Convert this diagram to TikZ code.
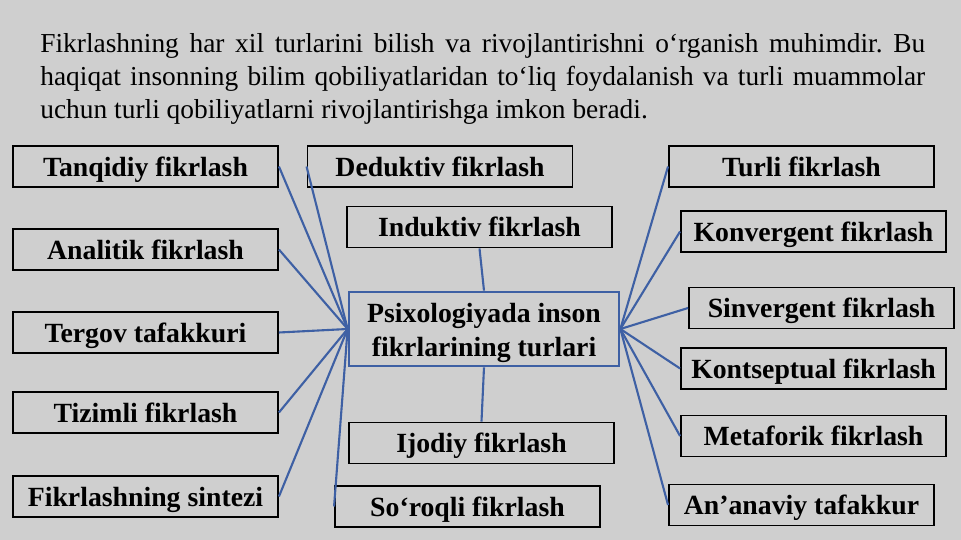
\documentclass[tikz,border=0pt]{standalone}
\usepackage{fontspec}
\setmainfont{Liberation Serif}
\usetikzlibrary{calc}
\definecolor{bgGray}{RGB}{207,207,207}
\definecolor{lineBlue}{RGB}{62,96,164}

\begin{document}
\frenchspacing
\begin{tikzpicture}[x=0.02cm,y=-0.02cm,
    kind/.style={draw=black,line width=1.1pt,minimum width=5.3cm,minimum height=0.82cm,inner sep=0pt,
        text height=11pt,text depth=0pt,font=\fontsize{15.8}{19.8}\selectfont\bfseries},
    link/.style={draw=lineBlue,line width=1.2pt}]
    \fill[bgGray] (0,0) rectangle (961,540);
    % intro text
    \node[anchor=north west,text width=17.7cm,align=justify,inner sep=0pt,
        font=\fontsize{15.6}{18.7}\selectfont] (intro) at (40,33)
        {Fikrlashning har xil turlarini bilish va rivojlantirishni o‘rganish muhimdir. Bu\linebreak
         haqiqat insonning bilim qobiliyatlaridan to‘liq foydalanish va turli muammolar\linebreak
         uchun turli qobiliyatlarni rivojlantirishga imkon beradi.};
    % left column
    \node[kind] (tanq) at (145.5,166.5) {Tanqidiy fikrlash};
    \node[kind] (anal) at (145.5,249.5) {Analitik fikrlash};
    \node[kind] (terg) at (145.5,332.5) {Tergov tafakkuri};
    \node[kind] (tizi) at (145.5,412.5) {Tizimli fikrlash};
    \node[kind] (sint) at (145.5,496.5) {Fikrlashning sintezi};
    % middle
    \node[kind] (dedu) at (440,166.5) {Deduktiv fikrlash};
    \node[kind] (indu) at (479.5,227) {Induktiv fikrlash};
    \node[kind,draw=lineBlue,line width=1.6pt,minimum width=5.4cm,minimum height=1.48cm,
        text height=31.8pt,align=center]
        (root) at (484,329) {Psixologiyada inson\\fikrlarining turlari};
    \node[kind] (ijod) at (481.5,443) {Ijodiy fikrlash};
    \node[kind] (soro) at (467.5,506.5) {So‘roqli fikrlash};
    % right column
    \node[kind] (turl) at (801.5,166.5) {Turli fikrlash};
    \node[kind] (konv) at (813.5,231.5) {Konvergent fikrlash};
    \node[kind] (sinv) at (821.5,308) {Sinvergent fikrlash};
    \node[kind] (kont) at (813.5,368.5) {Kontseptual fikrlash};
    \node[kind] (meta) at (813.5,436) {Metaforik fikrlash};
    \node[kind] (anan) at (801.5,505) {An’anaviy tafakkur};
    % connectors
    \foreach \n in {tanq,anal,terg,tizi,sint}
        \draw[link] (\n.east) -- (root.west);
    \foreach \n in {dedu,soro}
        \draw[link] (\n.west) -- (root.west);
    \foreach \n in {turl,konv,sinv,kont,meta,anan}
        \draw[link] (\n.west) -- (root.east);
    \draw[link] (indu.south) -- (root.north);
    \draw[link] (root.south) -- (ijod.north);
\end{tikzpicture}
\end{document}
